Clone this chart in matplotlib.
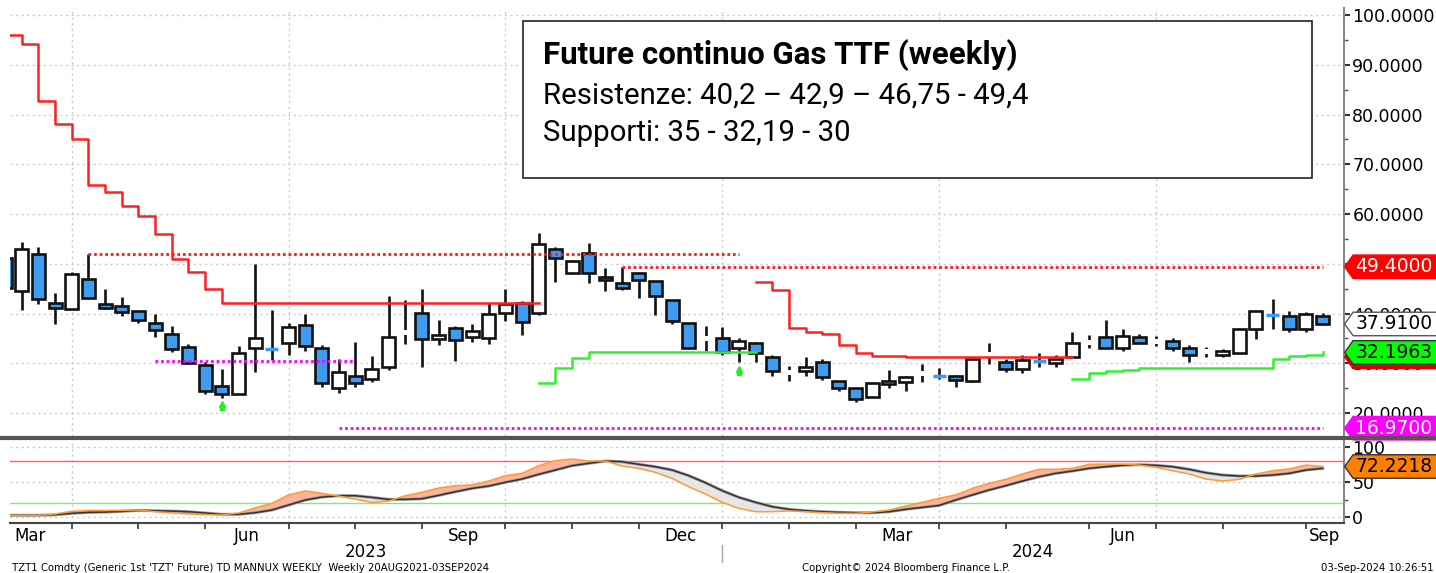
import numpy as np
import pandas as pd
import matplotlib
matplotlib.use('Agg')
import matplotlib.pyplot as plt
import matplotlib.transforms as mtransforms
from matplotlib.patches import Rectangle
from matplotlib.path import Path
from matplotlib.lines import Line2D
from matplotlib.ticker import FormatStrFormatter, MultipleLocator

nan = np.nan

# weekly bars (week ending Friday)
dates = pd.date_range('2023-03-03', periods=80, freq='7D')

opens = [51.2, 44.5, 52.0, 42.1, 40.9, 47.0, 42.0, 41.5, 40.5, 38.1,
         35.9, 33.3, 29.6, 25.4, 23.8, 33.1, 32.8, 34.1, 37.7, 33.1,
         25.0, 27.4, 26.8, 29.2, 36.2, 40.1, 34.9, 37.1, 35.3, 35.1,
         40.1, 42.1, 40.1, 53.0, 48.1, 52.2, 47.3, 46.1, 48.1, 46.5,
         42.7, 38.1, 34.9, 35.1, 33.1, 34.1, 31.3, 28.1, 28.4, 30.3,
         26.4, 25.0, 23.2, 25.8, 26.2, 27.9, 27.5, 27.4, 26.4, 31.8,
         30.3, 28.8, 30.4, 30.1, 31.3, 34.1, 35.3, 33.1, 35.3, 34.4,
         34.5, 33.1, 32.4, 31.7, 32.1, 36.9, 39.8, 39.5, 36.9, 39.5]
highs = [53.5, 54.4, 53.4, 44.1, 48.3, 52.0, 44.9, 43.3, 40.6, 39.9,
         37.5, 33.9, 30.3, 28.8, 33.5, 49.9, 40.7, 38.1, 39.9, 33.7,
         30.9, 34.3, 31.5, 43.5, 42.7, 44.9, 38.7, 37.5, 37.9, 42.1,
         44.9, 42.5, 56.2, 53.4, 50.8, 54.2, 49.1, 49.3, 48.3, 46.6,
         42.8, 38.2, 37.5, 37.3, 35.1, 34.2, 31.7, 29.4, 31.3, 30.9,
         26.5, 25.1, 26.2, 28.6, 27.4, 29.8, 29.0, 27.6, 31.0, 34.1,
         30.9, 31.7, 32.1, 31.7, 36.3, 35.7, 38.7, 36.9, 35.9, 35.5,
         35.1, 33.7, 33.3, 32.9, 37.1, 40.6, 42.9, 40.5, 40.3, 40.1]
lows = [43.5, 40.7, 41.9, 37.9, 40.9, 42.9, 40.9, 39.5, 38.1, 35.3,
        32.3, 29.8, 23.8, 23.0, 23.8, 28.2, 30.7, 31.7, 32.5, 25.2,
        24.0, 25.2, 26.2, 28.6, 33.9, 29.2, 33.7, 30.5, 34.3, 33.9,
        38.5, 35.7, 39.7, 46.3, 47.9, 46.1, 44.5, 44.7, 43.1, 39.7,
        37.9, 32.9, 32.5, 31.7, 30.3, 30.3, 27.4, 26.4, 27.4, 26.6,
        24.4, 22.2, 23.2, 25.0, 24.4, 26.2, 26.8, 25.2, 26.2, 29.8,
        28.2, 28.0, 29.2, 29.2, 31.3, 33.1, 32.9, 32.5, 34.0, 33.5,
        32.5, 30.3, 31.3, 31.3, 32.0, 34.9, 36.9, 36.3, 36.3, 37.8]
closes = [45.1, 53.0, 42.9, 41.1, 47.9, 43.2, 41.2, 40.3, 38.7, 36.7,
          32.9, 30.1, 24.4, 23.8, 32.1, 35.1, 32.6, 37.3, 33.5, 26.0,
          28.2, 26.0, 28.8, 35.3, 36.2, 34.9, 35.7, 34.7, 36.5, 39.9,
          41.9, 38.3, 54.0, 51.2, 50.6, 48.1, 46.7, 45.1, 46.7, 43.5,
          38.5, 33.1, 34.9, 32.3, 34.5, 32.1, 28.4, 28.1, 29.2, 27.2,
          25.0, 22.8, 26.0, 26.4, 27.2, 27.9, 27.3, 26.6, 30.9, 31.8,
          28.8, 30.7, 30.2, 30.9, 34.1, 34.1, 33.1, 35.5, 34.1, 34.4,
          33.1, 31.7, 32.4, 32.5, 36.9, 40.5, 39.6, 36.9, 39.9, 37.91]

# trailing stops (resistance red / support green)
red_stop = ([96.0, 94.1, 82.8, 78.1, 75.0, 65.9, 64.4, 61.7, 59.6, 56.0, 50.9, 48.3, 44.9]
            + [42.2] * 19 + [nan] * 13
            + [46.3, 44.7, 37.1, 36.3, 35.9, 33.7, 32.1, 31.5, 31.5]
            + [31.3] * 10 + [nan] * 16)
green_stop = ([nan] * 32 + [26.0, 29.0, 31.1] + [32.3] * 10 + [nan] * 19
              + [26.8, 28.0, 28.4, 28.6] + [29.0] * 8 + [30.9, 31.5, 31.7, 32.1963])

# horizontal levels
res_levels = [52.0, 49.4]
res_start = [5, 37]
res_end = [44, 79]
sup_levels = [30.5, 16.97]
sup_start = [9, 20]
sup_end = [21, 79]

# buy signals
signal_idx = [13, 44]
signal_val = [21.8, 28.8]

# oscillator
osc_slow = [3.0, 3.0, 3.0, 3.8, 5.8, 7.2, 7.6, 8.6, 10.0, 9.5,
            9.0, 8.1, 6.3, 4.4, 4.4, 6.7, 10.5, 17.6, 24.7, 28.9,
            30.8, 30.8, 28.4, 25.6, 25.6, 26.5, 31.3, 36.4, 41.2, 44.5,
            49.8, 54.5, 61.1, 67.2, 73.4, 76.7, 80.0, 79.0, 75.3, 71.9,
            67.2, 59.2, 49.2, 37.9, 28.5, 21.4, 15.2, 11.5, 9.5, 8.1,
            7.2, 6.7, 6.7, 8.1, 11.5, 14.3, 17.0, 24.7, 31.9, 38.9,
            45.0, 51.6, 57.7, 62.5, 65.8, 69.6, 71.9, 73.9, 74.8, 73.9,
            71.9, 68.2, 63.4, 60.1, 58.7, 58.7, 60.1, 62.5, 67.2, 69.6]
osc_fast = [3.0, 3.0, 3.0, 4.8, 8.6, 10.0, 10.0, 10.0, 10.5, 8.2,
            6.3, 4.9, 4.0, 3.5, 6.3, 13.4, 20.0, 31.9, 37.6, 34.1,
            30.3, 26.0, 21.3, 23.2, 30.8, 35.6, 41.7, 45.1, 46.0, 51.6,
            59.2, 62.5, 73.4, 80.5, 82.8, 80.0, 80.0, 72.9, 69.6, 63.9,
            55.4, 43.5, 33.2, 21.4, 12.9, 8.1, 8.1, 9.1, 8.1, 6.7,
            5.8, 5.8, 7.7, 10.5, 16.2, 21.4, 27.1, 31.9, 41.2, 48.4,
            54.0, 61.6, 68.2, 68.2, 69.6, 75.3, 75.7, 75.7, 74.3, 71.1,
            66.2, 61.6, 54.5, 51.6, 54.0, 61.6, 66.2, 68.7, 74.3, 72.2218]

x = np.arange(len(dates))
xmin, xmax = 0.3, 80.28

fig = plt.figure(figsize=(14.36, 5.73), dpi=100)
ax = fig.add_axes([10 / 1436, 1 - 436 / 573, 1334 / 1436, 428 / 573])
ax2 = fig.add_axes([10 / 1436, 1 - 523 / 573, 1334 / 1436, 84 / 573], sharex=ax)

grid_kw = dict(color='#c8c8d4', lw=1, ls=(0, (1.5, 2.5)), zorder=0)

# month ends -> ticks, quarter ends -> grid
month_end = [i for i in range(len(dates) - 1) if dates[i].month != dates[i + 1].month]
quarter_end = [i for i in month_end if dates[i].month in (3, 6, 9, 12)]

# ---- main panel
for v in range(20, 101, 10):
    ax.axhline(v, **grid_kw)
for q in quarter_end:
    ax.axvline(q, **grid_kw)
    ax2.axvline(q, **grid_kw)

body_w = 0.78
blue = '#3d9cf0'
for i in x:
    o, h, l, c = opens[i], highs[i], lows[i], closes[i]
    ax.vlines(i, l, h, color='#111111', lw=1.9, zorder=3)
    if o == c:
        # doji with no body: wick with a gap
        ax.add_patch(Rectangle((i - 0.2, o - 0.5), 0.4, 1.0, fc='white', ec='none', zorder=4))
    elif c < o and o - c < 0.3:
        ax.hlines(o, i - body_w / 2, i + body_w / 2, color=blue, lw=2.5, zorder=4)
    else:
        fc = 'white' if c > o else blue
        ax.add_patch(Rectangle((i - body_w / 2, min(o, c)), body_w, abs(c - o),
                               fc=fc, ec='#111111', lw=1.9, zorder=4))

ax.plot(x, red_stop, drawstyle='steps-post', color='#ff2020', lw=1.8, zorder=5)
ax.plot(x, green_stop, drawstyle='steps-post', color='#33ee33', lw=1.8, zorder=5)
for v, s, e in zip(res_levels, res_start, res_end):
    ax.hlines(v, s, e, color='#ff1a1a', lw=2, ls=(0, (1, 1)), zorder=5)
for v, s, e in zip(sup_levels, sup_start, sup_end):
    ax.hlines(v, s, e, color='#ff00ff', lw=2, ls=(0, (1, 1)), zorder=5)
ax.plot(signal_idx, signal_val, ls='none', marker='^', ms=5, color='#22ee22', zorder=5)
ax.plot(signal_idx, [v - 0.7 for v in signal_val], ls='none', marker='s', ms=2.5, color='#22ee22', zorder=5)

ax.set_xlim(xmin, xmax)
ax.set_ylim(15.4, 101.4)
ax.yaxis.tick_right()
ax.set_yticks(np.arange(20, 101, 10))
ax.yaxis.set_minor_locator(MultipleLocator(5))
# 50.0000 is fully hidden by the 49.4 tag in the original
ax.set_yticklabels(['' if v == 50 else '%.4f' % v for v in np.arange(20, 101, 10)])
ax.tick_params(axis='y', which='major', length=4, width=1.5, pad=2, labelsize=12.5, color='#333333')
ax.tick_params(axis='y', which='minor', length=3, width=1, color='#555555')
ax.tick_params(axis='x', which='both', bottom=False, labelbottom=False)
for s in ['top', 'left', 'bottom']:
    ax.spines[s].set_visible(False)
ax.spines['right'].set_color('#888888')
ax.spines['right'].set_linewidth(1.5)

# title box
ax.add_patch(Rectangle((0.3846, 0.6028), 0.5914, 0.3668, transform=ax.transAxes,
                       fc='white', ec='#222222', lw=1.2, zorder=8))
ax.text(0.3996, 0.8701, 'Future continuo Gas TTF (weekly)', transform=ax.transAxes,
        family='Roboto', weight='bold', fontsize=22.5, va='baseline', zorder=9)
ax.text(0.3996, 0.7771, 'Resistenze: 40,2 \u2013 42,9 \u2013 46,75 - 49,4', transform=ax.transAxes,
        family='Roboto', fontsize=21.2, va='baseline', zorder=9)
ax.text(0.3996, 0.6881, 'Supporti: 35 - 32,19 - 30', transform=ax.transAxes,
        family='Roboto', fontsize=21.2, va='baseline', zorder=9)


def tag_box(x0, y0, width, height, mutation_size):
    pad = 0.12 * mutation_size
    x0, y0 = x0 - pad, y0 - pad
    w, h = width + 2 * pad + 40, height + 2 * pad
    tip = h * 0.36
    verts = [(x0 - tip, y0 + h / 2), (x0, y0 + h), (x0 + w, y0 + h), (x0 + w, y0), (x0, y0),
             (x0 - tip, y0 + h / 2)]
    return Path(verts, closed=True)


def tag(a, y, s, fc, tc, ec=None):
    tr = mtransforms.blended_transform_factory(a.transAxes, a.transData)
    a.text(1.0085, y, s, transform=tr, ha='left', va='center', fontsize=13.5, color=tc,
           zorder=20, clip_on=False,
           bbox=dict(boxstyle=tag_box, fc=fc, ec=ec or fc, lw=1))


tag(ax, res_levels[1], '%.4f' % res_levels[1], '#ff0000', 'white')
tag(ax, closes[-1], '%.4f' % closes[-1], 'white', 'black', '#555555')
tag(ax, red_stop[63], '%.4f' % red_stop[63], '#e00000', '#e00000')
tag(ax, green_stop[-1], '%.4f' % green_stop[-1], '#00ff00', 'black', '#333333')
tag(ax, sup_levels[1], '%.4f' % sup_levels[1], '#ff00ff', 'white')

# ---- oscillator panel
for v in (0, 50, 100):
    ax2.axhline(v, **grid_kw)
ax2.axhline(80, color='#ff6060', lw=1, zorder=1)
ax2.axhline(20, color='#77ee77', lw=1, zorder=1)
slow = np.array(osc_slow)
fast = np.array(osc_fast)
ax2.fill_between(x, slow, fast, where=fast >= slow, interpolate=True, color='#ffb39a', lw=0, zorder=2)
ax2.fill_between(x, slow, fast, where=fast < slow, interpolate=True, color='#e6e6e6', lw=0, zorder=2)
ax2.plot(x, slow, color='#a0a0a0', lw=2.2, zorder=3)
ax2.plot(x, slow, color='#333333', lw=1.1, zorder=3)
ax2.plot(x, fast, color='#ff9933', lw=1.1, zorder=3)
ax2.set_ylim(-7.9, 111.2)
ax2.yaxis.tick_right()
ax2.set_yticks([0, 50, 100])
ax2.yaxis.set_minor_locator(MultipleLocator(25))
ax2.tick_params(axis='y', which='major', length=4, width=1.5, pad=2, labelsize=12.5, color='#333333')
ax2.tick_params(axis='y', which='minor', length=3, width=1, color='#555555')
ax2.set_xticks(month_end)
ax2.tick_params(axis='x', which='major', direction='out', length=4, width=1.2, color='#333333',
                labelbottom=False)
ax2.tick_params(axis='x', which='minor', bottom=False)
for s in ['top', 'left']:
    ax2.spines[s].set_visible(False)
ax2.spines['right'].set_color('#888888')
ax2.spines['right'].set_linewidth(1.5)
ax2.spines['bottom'].set_color('#444444')
ax2.spines['bottom'].set_linewidth(1.5)
tag(ax2, fast[-1], '%.4f' % fast[-1], '#ff8000', 'black', '#333333')

# month and year labels
xtr = mtransforms.blended_transform_factory(ax2.transData, ax2.transAxes)
months = pd.Series(x, index=dates)
prev_end = -1
for key, grp in months.groupby([dates.year, dates.month]):
    end = grp.iloc[-1] if grp.iloc[-1] < x[-1] else xmax
    if key[1] in (3, 6, 9, 12):
        ax2.text((prev_end + end) / 2, -0.155, dates[grp.iloc[0]].strftime('%b'), transform=xtr,
                 ha='center', va='center', fontsize=12, clip_on=False)
    prev_end = grp.iloc[-1]
year_break = [i for i in month_end if dates[i].month == 12][0]
ax2.text((xmin + year_break) / 2, -0.345, str(dates[0].year), transform=xtr,
         ha='center', va='center', fontsize=12, clip_on=False)
ax2.text((year_break + xmax) / 2, -0.345, str(dates[-1].year), transform=xtr,
         ha='center', va='center', fontsize=12, clip_on=False)
ax2.plot([year_break, year_break], [-0.26, -0.47], transform=xtr, color='#aaaaaa', lw=1, clip_on=False)

# panel separator
fig.add_artist(Line2D([0, 1], [1 - 437.5 / 573] * 2, transform=fig.transFigure, color='#555555', lw=3))

fig.text(12 / 1436, 1 - 568 / 573,
         "TZT1 Comdty (Generic 1st 'TZT' Future) TD MANNUX WEEKLY  Weekly 20AUG2021-03SEP2024",
         fontsize=7.3, va='center')
fig.text(802 / 1436, 1 - 568 / 573, 'Copyright\u00a9 2024 Bloomberg Finance L.P.', fontsize=7.3, va='center')
fig.text(1434 / 1436, 1 - 568 / 573, '03-Sep-2024 10:26:51', fontsize=7.3, va='center', ha='right')

fig.savefig('out.png', dpi=100)
